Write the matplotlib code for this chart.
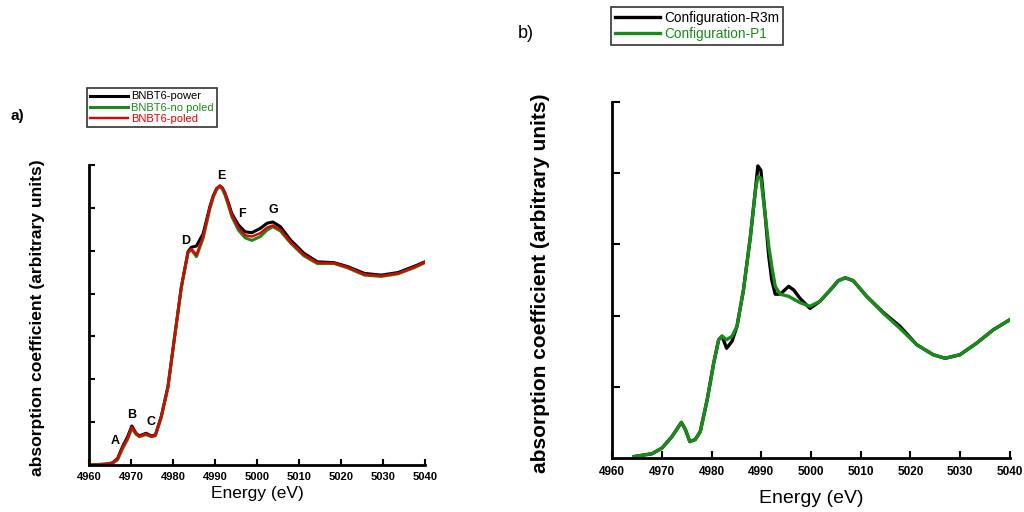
import matplotlib
matplotlib.use('Agg')
import matplotlib.pyplot as plt
import numpy as np

plt.rcParams['font.family'] = ['Liberation Sans', 'DejaVu Sans']

# panel a) - XANES spectra
e_a = [4960, 4964, 4965.6, 4966.8, 4968, 4969.2, 4970.2, 4971.2, 4972, 4973.6, 4974.8, 4975.8,
       4977.2, 4978.8, 4980.4, 4982, 4983.6, 4984.4, 4985.6, 4987.2, 4988.8, 4989.6, 4990.4, 4991.2,
       4991.8, 4992.4, 4993.2, 4994, 4995.6, 4997.2, 4998.8, 5000.8, 5002.4, 5003.8, 5005.6, 5008, 5011.2,
       5014.4, 5018.4, 5021.6, 5025.6, 5029.6, 5033.6, 5037.6, 5040]
power = [0.0, 0.02, 0.05, 0.15, 0.43, 0.66, 0.91, 0.74, 0.68, 0.74, 0.68, 0.70,
         1.13, 1.83, 3.0, 4.16, 4.98, 5.08, 5.11, 5.4, 6.03, 6.28, 6.45, 6.51,
         6.46, 6.34, 6.12, 5.87, 5.6, 5.44, 5.42, 5.52, 5.64, 5.67, 5.56, 5.25, 4.94,
         4.74, 4.72, 4.63, 4.47, 4.43, 4.49, 4.64, 4.74]
no_poled = [0.0, 0.02, 0.04, 0.12, 0.38, 0.60, 0.86, 0.72, 0.66, 0.71, 0.66, 0.68,
            1.10, 1.80, 2.98, 4.14, 4.96, 5.02, 4.86, 5.30, 5.98, 6.25, 6.43, 6.50,
            6.43, 6.30, 6.06, 5.80, 5.48, 5.30, 5.24, 5.33, 5.48, 5.56, 5.46, 5.18, 4.88,
            4.70, 4.70, 4.60, 4.43, 4.40, 4.46, 4.61, 4.72]
poled = [0.0, 0.02, 0.05, 0.14, 0.41, 0.63, 0.88, 0.73, 0.67, 0.73, 0.67, 0.69,
         1.11, 1.81, 2.99, 4.15, 4.97, 5.04, 4.90, 5.33, 6.01, 6.27, 6.45, 6.52,
         6.46, 6.33, 6.09, 5.83, 5.53, 5.36, 5.33, 5.41, 5.54, 5.59, 5.49, 5.20, 4.90,
         4.72, 4.71, 4.61, 4.45, 4.41, 4.47, 4.62, 4.73]
peak_labels = ['A', 'B', 'C', 'D', 'E', 'F', 'G']
peak_e = [4966.2, 4970.2, 4974.8, 4983.1, 4991.4, 4996.4, 5003.8]
peak_y = [0.56, 1.16, 1.0, 5.23, 6.74, 5.86, 5.95]

# panel b) - calculated spectra
e_b = [4964.4, 4968, 4970, 4972, 4973.9, 4974.7, 4975.6, 4976.7, 4977.7, 4979.1, 4980.4,
       4981.4, 4982.1, 4983, 4984.1, 4985.1, 4986.4, 4987.8, 4988.8, 4989.3, 4989.9, 4990.8,
       4991.5, 4992.1, 4992.8, 4993.8, 4995.5, 4996.5, 4997.8, 4999.8, 5001.8, 5003.9, 5005.5,
       5006.9, 5008.5, 5011.2, 5014.6, 5017.9, 5021.3, 5024.6, 5027, 5030, 5033.3, 5036.7, 5040]
r3m = [0.02, 0.06, 0.14, 0.30, 0.50, 0.40, 0.23, 0.26, 0.37, 0.82, 1.33,
       1.66, 1.71, 1.54, 1.64, 1.85, 2.36, 3.11, 3.76, 4.10, 4.04, 3.39,
       2.83, 2.50, 2.30, 2.30, 2.41, 2.36, 2.24, 2.10, 2.20, 2.36, 2.49,
       2.53, 2.49, 2.27, 2.04, 1.85, 1.59, 1.45, 1.40, 1.45, 1.61, 1.80, 1.94]
p1 = [0.02, 0.06, 0.14, 0.30, 0.50, 0.40, 0.23, 0.26, 0.37, 0.82, 1.33,
      1.66, 1.71, 1.66, 1.71, 1.85, 2.36, 3.11, 3.76, 3.95, 3.93, 3.39,
      2.97, 2.69, 2.41, 2.30, 2.27, 2.23, 2.18, 2.13, 2.20, 2.36, 2.49,
      2.53, 2.49, 2.27, 2.03, 1.82, 1.59, 1.45, 1.40, 1.45, 1.61, 1.80, 1.94]

green = '#1a8a1a'
red = '#e00000'
fig = plt.figure(figsize=(10.24, 5.12), dpi=100)

ax1 = fig.add_axes([0.0869, 0.0918, 0.328, 0.586])
ax1.plot(e_a, power, color='black', lw=2.2, label='BNBT6-power')
ax1.plot(e_a, no_poled, color=green, lw=2.2, label='BNBT6-no poled')
ax1.plot(e_a, poled, color=red, lw=1.7, label='BNBT6-poled')
for lab, x, y in zip(peak_labels, peak_e, peak_y):
    ax1.text(x, y, lab, ha='center', va='center', fontsize=9, fontweight='bold')
ax1.set_xlim(4960, 5040)
ax1.set_ylim(0, 7)
ax1.set_xticks(np.arange(4960, 5041, 10))
ax1.set_yticks(np.arange(1, 8))
ax1.set_yticklabels([])
ax1.tick_params(axis='x', labelsize=8, direction='in', length=4, width=1.5, pad=5)
ax1.tick_params(axis='y', direction='in', length=4, width=1.5)
for t in ax1.get_xticklabels():
    t.set_fontweight('bold')
ax1.set_xlabel('Energy (eV)', fontsize=12.5)
ax1.xaxis.set_label_coords(0.5, -0.071)
ax1.set_ylabel('absorption coefficient (arbitrary units)', fontsize=12.6, fontweight='bold')
ax1.yaxis.set_label_coords(-0.132, 0.49)
for s in ['top', 'right']:
    ax1.spines[s].set_visible(False)
for s in ['left', 'bottom']:
    ax1.spines[s].set_linewidth(2)
leg1 = fig.legend(handles=ax1.get_lines(), loc='upper left', bbox_to_anchor=(0.085, 0.828),
                  fontsize=8, frameon=True, fancybox=False, edgecolor='black', handlelength=3.4,
                  borderpad=0.3, labelspacing=0.1, handletextpad=0.3, borderaxespad=0)
leg1.get_frame().set_linewidth(1.2)
for t, c in zip(leg1.get_texts(), ['black', green, red]):
    t.set_color(c)
fig.text(0.010, 0.773, 'a)', fontsize=11, fontweight='bold', va='center')

ax2 = fig.add_axes([0.598, 0.1055, 0.388, 0.6955])
ax2.plot(e_b, r3m, color='black', lw=2.4, label='Configuration-R3m')
ax2.plot(e_b, p1, color=green, lw=2.4, label='Configuration-P1')
ax2.set_xlim(4960, 5040)
ax2.set_ylim(0, 5)
ax2.set_xticks(np.arange(4960, 5041, 10))
ax2.set_yticks(np.arange(1, 6))
ax2.set_yticklabels([])
ax2.tick_params(axis='x', labelsize=8.5, direction='in', length=5, width=1.5, pad=6)
ax2.tick_params(axis='y', direction='in', length=6, width=1.5)
for t in ax2.get_xticklabels():
    t.set_fontweight('bold')
ax2.set_xlabel('Energy (eV)', fontsize=14)
ax2.xaxis.set_label_coords(0.5, -0.089)
ax2.set_ylabel('absorption coefficient (arbitrary units)', fontsize=15, fontweight='bold')
ax2.yaxis.set_label_coords(-0.157, 0.49)
for s in ['top', 'right']:
    ax2.spines[s].set_visible(False)
for s in ['left', 'bottom']:
    ax2.spines[s].set_linewidth(2)
leg2 = fig.legend(handles=ax2.get_lines(), loc='upper left', bbox_to_anchor=(0.597, 0.986),
                  fontsize=9.8, frameon=True, fancybox=False, edgecolor='black', handlelength=3.3,
                  borderpad=0.3, labelspacing=0.1, handletextpad=0.3, borderaxespad=0)
leg2.get_frame().set_linewidth(1.2)
for t, c in zip(leg2.get_texts(), ['black', green]):
    t.set_color(c)
fig.text(0.506, 0.935, 'b)', fontsize=13, va='center')

fig.savefig('out.png', dpi=100)
